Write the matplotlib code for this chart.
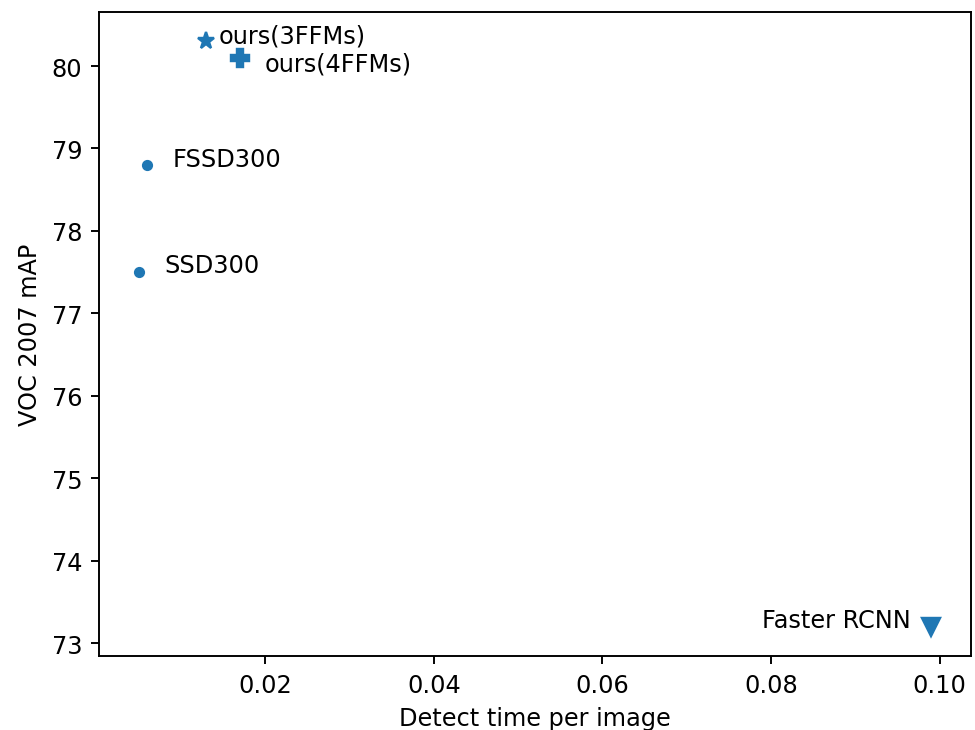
import matplotlib
matplotlib.use("Agg")
import matplotlib.pyplot as plt

names = ["SSD300", "FSSD300", "ours(3FFMs)", "ours(4FFMs)", "Faster RCNN"]
times = [0.005, 0.006, 0.013, 0.017, 0.099]
maps = [77.5, 78.8, 80.3, 80.1, 73.2]
markers = [".", ".", "*", "P", "v"]
label_x = [0.008, 0.009, 0.0145, 0.020, 0.0789]
label_y = [77.5, 78.79, 80.28, 79.95, 73.2]

dpi = 173
fig = plt.figure(figsize=(975 / dpi, 731 / dpi), dpi=dpi)
ax = fig.add_axes([0.1015, 0.1012, 0.9959 - 0.1015, 0.9822 - 0.1012])
for t, m, mk in zip(times, maps, markers):
    ax.plot([t], [m], marker=mk, color="#1f77b4", markersize=7.3, linestyle="none")
for n, lx, ly in zip(names, label_x, label_y):
    ax.text(lx, ly, n, fontsize=10)
ax.set_xlabel("Detect time per image")
ax.set_ylabel("VOC 2007 mAP")
fig.savefig("out.png", dpi=dpi)
